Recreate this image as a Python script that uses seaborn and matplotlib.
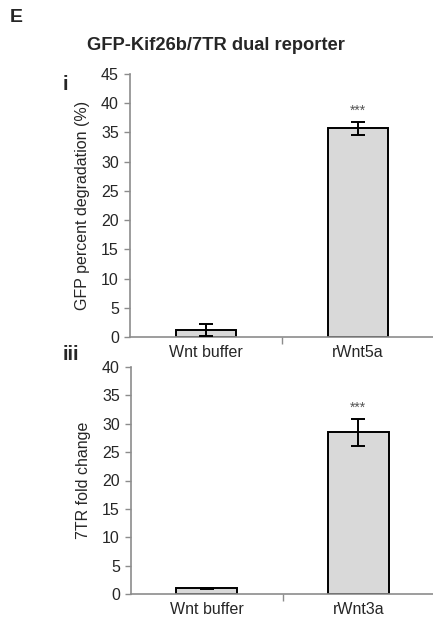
import matplotlib
matplotlib.use("Agg")
import matplotlib.pyplot as plt
import seaborn as sns
import pandas as pd

sns.set_theme(style="white")
plt.rcParams['font.family'] = ['Liberation Sans', 'DejaVu Sans']

# Data
cats_top = ["Wnt buffer", "rWnt5a"]
vals_top = [1.2, 35.7]
errs_top = [1.0, 1.1]

cats_bot = ["Wnt buffer", "rWnt3a"]
vals_bot = [1.0, 28.5]
errs_bot = [0.12, 2.4]

yticks_top = [0, 5, 10, 15, 20, 25, 30, 35, 40, 45]
yticks_bot = [0, 5, 10, 15, 20, 25, 30, 35, 40]

W, H = 433, 625
fig = plt.figure(figsize=(W / 100, H / 100), dpi=100)

def px_axes(left, top, right, bottom):
    return fig.add_axes([left / W, 1 - bottom / H, (right - left) / W, (bottom - top) / H])

ax1 = px_axes(130, 74, 434, 337)
ax2 = px_axes(131, 367, 434, 594)

spine_col = "#8c8c8c"
fs = 11.5

def draw(ax, cats, vals, errs, yticks, ylabel):
    df = pd.DataFrame({"cat": cats, "val": vals})
    sns.barplot(data=df, x="cat", y="val", ax=ax, color="#d9d9d9",
                edgecolor="black", linewidth=1.4, width=0.4, saturation=1,
                errorbar=None)
    ax.errorbar(range(len(cats)), vals, yerr=errs, fmt="none", ecolor="black",
                elinewidth=1.4, capsize=5, capthick=1.4, zorder=5)
    ax.set_xlim(-0.5, 1.5)
    ax.set_ylim(0, yticks[-1])
    ax.set_yticks(yticks)
    ax.set_xticks([0.5], minor=False)
    ax.set_xticks([0, 1], minor=True)
    ax.set_xticklabels([""])
    ax.set_xticklabels(cats, minor=True)
    ax.tick_params(axis="x", which="major", direction="out", length=5, width=1,
                   color=spine_col, bottom=True)
    ax.tick_params(axis="x", which="minor", length=0, pad=6, labelsize=fs, bottom=True)
    ax.tick_params(axis="y", direction="out", length=4, width=1, color=spine_col,
                   labelsize=fs, pad=4, left=True)
    for s in ["top", "right"]:
        ax.spines[s].set_visible(False)
    for s in ["left", "bottom"]:
        ax.spines[s].set_color(spine_col)
        ax.spines[s].set_linewidth(1.2)
    ax.set_xlabel("")
    ax.set_ylabel(ylabel, fontsize=fs, labelpad=8)
    ax.text(1, vals[1] + errs[1] + 0.7, "***", ha="center", va="bottom",
            fontsize=10, color="#555555")

draw(ax1, cats_top, vals_top, errs_top, yticks_top, "GFP percent degradation (%)")
draw(ax2, cats_bot, vals_bot, errs_bot, yticks_bot, "7TR fold change")

fig.text(10 / W, 1 - 18 / H, "E", fontsize=14, fontweight="bold", ha="left", va="center")
fig.text(216 / W, 1 - 46 / H, "GFP-Kif26b/7TR dual reporter", fontsize=13.2,
         fontweight="bold", ha="center", va="center")
fig.text(63 / W, 1 - 84 / H, "i", fontsize=14.5, fontweight="bold", ha="left", va="center")
fig.text(63 / W, 1 - 354 / H, "iii", fontsize=14.5, fontweight="bold", ha="left", va="center")

fig.savefig("out.png", dpi=100)
